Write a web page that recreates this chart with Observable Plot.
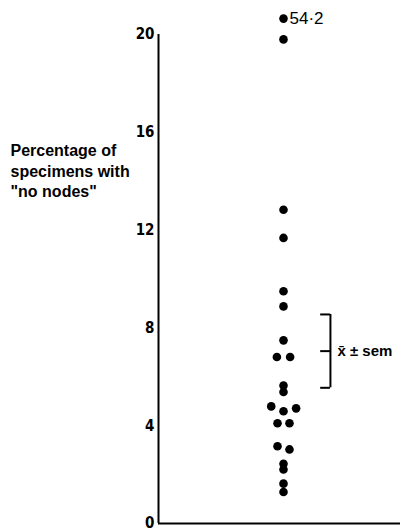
<!DOCTYPE html>
<html>
<head>
<meta charset="utf-8">
<script src="https://cdn.jsdelivr.net/npm/d3@7"></script>
<script src="https://cdn.jsdelivr.net/npm/@observablehq/plot@0.6"></script>
<style>
  html, body { margin: 0; padding: 0; background: #fff; }
  #chart svg { overflow: visible; }
</style>
</head>
<body>
<div id="chart"></div>
<script>
// Percentage of specimens with "no nodes" (one value per specimen group)
const values = [54.2, 19.8, 12.83, 11.68, 9.5, 8.88, 7.49, 6.81, 6.81, 5.64, 5.38,
                4.79, 4.71, 4.59, 4.1, 4.1, 3.16, 3.03, 2.44, 2.21, 1.63, 1.29];
// column slot of each dot (dots sharing a level are set side by side)
const slots  = [0, 0, 0, 0, 0, 0, 0, -1.05, 1.05, 0, 0,
                -1.95, 2, 0, -0.95, 0.95, -0.95, 0.95, 0, 0, 0, 0];
// mean and standard error shown by the bracket
const meanValue = 7.05;
const semValue = 1.5;
const yTicks = [4, 8, 12, 16, 20];
const yZeroTick = [0];
const yMax = 20;
const offScaleLabel = "54\u00B72";
const yLabel = "Percentage of\nspecimens with\n\"no nodes\"";

const offScaleY = 20.65; // where the off-scale value is drawn (above the axis top)
const data = values.map((v, i) => ({value: v, slot: slots[i], plotY: v > yMax ? offScaleY : v}));
const offScale = data.filter(d => d.value > yMax);

const bx0 = 5.9, bx1 = 7.45;
const bracket = [{y: meanValue + semValue}, {y: meanValue - semValue}];

const font = "'Liberation Sans', Arial, Helvetica, sans-serif";
const tickFont = "'Liberation Sans Narrow', 'DejaVu Sans Condensed', sans-serif";

const chart = Plot.plot({
  width: 400,
  height: 530,
  marginLeft: 158,
  marginRight: 0,
  marginTop: 34,
  marginBottom: 7,
  style: {fontFamily: font, background: "#fff", color: "#000", overflow: "visible"},
  x: {domain: [-19.84, 18.57], axis: null},
  y: {domain: [0, yMax], axis: null},
  marks: [
    Plot.axisY(yTicks, {tickSize: 0, tickPadding: 4, fontSize: 15, fontWeight: "bold",
      fontFamily: tickFont, tickFormat: d => String(d), label: null}),
    Plot.axisY(yZeroTick, {tickSize: 0, tickPadding: 4, fontSize: 15, fontWeight: "bold",
      fontFamily: tickFont, tickFormat: d => String(d), label: null, lineAnchor: "bottom", dy: 4}),
    Plot.ruleX([0], {x: -19.84, y1: 0, y2: yMax, stroke: "#000", strokeWidth: 2}),
    Plot.ruleY([0], {stroke: "#000", strokeWidth: 2}),
    Plot.dot(data, {x: "slot", y: "plotY", r: 4.3, fill: "#000", stroke: "none"}),
    Plot.text(offScale, {x: "slot", y: "plotY", text: () => offScaleLabel, dx: 6,
      textAnchor: "start", fontSize: 17, fill: "#000"}),
    // bracket for mean ± sem
    Plot.ruleX([0], {x: bx1, y1: meanValue - semValue, y2: meanValue + semValue, stroke: "#000", strokeWidth: 2}),
    Plot.ruleY(bracket, {y: "y", x1: bx0, x2: bx1, stroke: "#000", strokeWidth: 2}),
    Plot.ruleY([meanValue], {x1: bx0, x2: bx1, stroke: "#000", strokeWidth: 2}),
    Plot.text([meanValue], {x: bx1, y: d => d, text: () => "x\u0304 \u00B1 sem", dx: 7,
      textAnchor: "start", fontSize: 15, fontWeight: "bold", fill: "#000"}),
    // y-axis title at left
    Plot.text([yLabel], {frameAnchor: "left", y: 14.45, text: d => d, dx: -148,
      textAnchor: "start", lineHeight: 1.28, fontSize: 16, fontWeight: "bold", fill: "#000"})
  ]
});
document.getElementById("chart").appendChild(chart);
</script>
</body>
</html>
